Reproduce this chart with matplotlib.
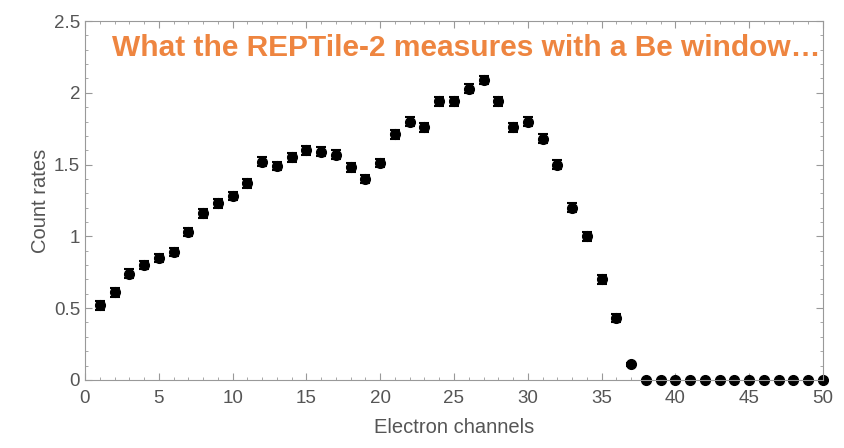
import matplotlib
matplotlib.use('Agg')
import matplotlib.pyplot as plt
import numpy as np
from matplotlib.ticker import MultipleLocator

plt.rcParams['font.family'] = ['Liberation Sans', 'DejaVu Sans']

channels = np.arange(1, 51)
rates = [0.52, 0.61, 0.74, 0.80, 0.85, 0.89, 1.03, 1.16, 1.23, 1.28,
         1.37, 1.52, 1.49, 1.55, 1.60, 1.59, 1.57, 1.48, 1.40, 1.51,
         1.71, 1.80, 1.76, 1.94, 1.94, 2.03, 2.09, 1.94, 1.76, 1.80,
         1.68, 1.50, 1.20, 1.00, 0.70, 0.43, 0.11] + [0.0] * 13
errors = [0.03] * 36 + [0.01] + [0.0] * 13

title = 'What the REPTile-2 measures with a Be window\u2026'
grey = '#555555'

fig = plt.figure(figsize=(8.44, 4.48), dpi=100)
ax = fig.add_axes([0.1007, 0.152, 0.8744, 0.801])

eb = ax.errorbar(channels, rates, yerr=errors, fmt='o', color='black',
                 markersize=7, capsize=3.5, elinewidth=1.5, capthick=1.5)
eb.lines[0].set_clip_on(False)

ax.set_xlim(0, 50)
ax.set_ylim(0, 2.5)
ax.xaxis.set_major_locator(MultipleLocator(5))
ax.xaxis.set_minor_locator(MultipleLocator(1))
ax.yaxis.set_minor_locator(MultipleLocator(0.1))
ax.set_yticks([0, 0.5, 1, 1.5, 2, 2.5])
ax.set_yticklabels(['0', '0.5', '1', '1.5', '2', '2.5'])

ax.tick_params(which='both', direction='in', top=True, right=True,
               color='#999999', labelcolor=grey, labelsize=13.5)
ax.tick_params(which='major', length=5)
ax.tick_params(which='minor', length=2.5)
ax.tick_params(axis='x', pad=7)
for s in ax.spines.values():
    s.set_color('#999999')

ax.set_xlabel('Electron channels', color=grey, fontsize=14.5, labelpad=8)
ax.set_ylabel('Count rates', color=grey, fontsize=14.5, labelpad=3)

ax.text(0.997, 0.925, title, transform=ax.transAxes, ha='right', va='center',
        color='#EE8540', fontsize=21.5, fontweight='bold')

fig.savefig('out.png', dpi=100)
